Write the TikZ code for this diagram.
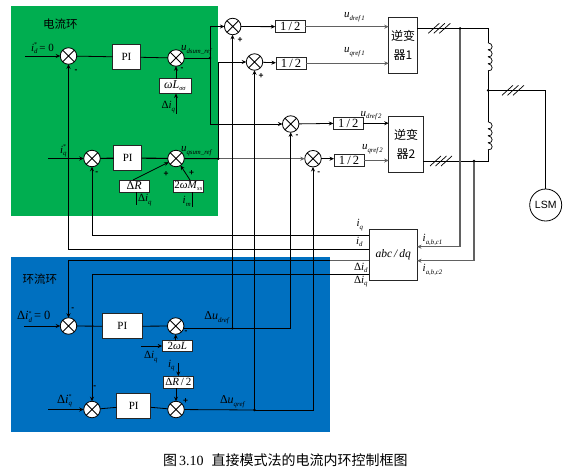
\documentclass[tikz,border=0pt]{standalone}
\usepackage{fontspec}
\setmainfont{Liberation Serif}
\newfontfamily\cjk{Noto Sans CJK SC}
\newfontfamily\hei{Liberation Sans}
\usetikzlibrary{arrows.meta}
\definecolor{gblock}{RGB}{0,174,80}
\definecolor{bblock}{RGB}{0,112,192}
\definecolor{gline}{gray}{0.38}
\newcommand{\subsup}[2]{\rlap{\raisebox{4.6pt}{\fontsize{6}{6}\selectfont #2}}\raisebox{-2.4pt}{\fontsize{6.8}{6.8}\selectfont\textit{#1}}}
\newcommand{\sym}[3]{\textit{#1}\subsup{#2}{#3}}
\tikzset{
  every node/.style={inner sep=0pt,outer sep=0pt},
  conn/.style={draw=black,line width=0.8pt},
  conng/.style={draw=gline,line width=1.3pt},
  tipped/.style={-{Stealth[length=4.5pt,width=4pt]}},
  sumnode/.style={circle,draw=black,line width=0.8pt,fill=white,minimum size=16.5pt,
    path picture={\draw[line width=0.8pt] (path picture bounding box.north west)--(path picture bounding box.south east)
      (path picture bounding box.north east)--(path picture bounding box.south west);}},
  boxnode/.style={draw=black!85,line width=0.8pt,fill=white,font=\fontsize{11}{11}\selectfont},
  halfbox/.style={boxnode,minimum width=30pt,minimum height=12pt,font=\fontsize{12.5}{12.5}\selectfont},
  lab/.style={anchor=west,font=\fontsize{11}{11}\selectfont,text=black},
  signlab/.style={font=\hei\bfseries\fontsize{8.5}{8.5}\selectfont},
  juncdot/.style={circle,fill=black,minimum size=2.6pt},
  slashes/.style={line width=0.7pt}
}
\begin{document}
\begin{tikzpicture}[x=1pt,y=-1pt]
\useasboundingbox (0,0) rectangle (567,472);
\fill[white] (0,0) rectangle (567,472);
\fill[gblock] (11,6) rectangle (218,216);
\fill[bblock] (11,257) rectangle (330,432);

% summing junctions
\node[sumnode] (s1) at (68.5,56) {};
\node[sumnode] (s2) at (176,58) {};
\node[sumnode] (s3) at (92,158.5) {};
\node[sumnode] (s4) at (176,158.5) {};
\node[sumnode] (s5) at (232.7,26.5) {};
\node[sumnode] (s6) at (254.5,62) {};
\node[sumnode] (s7) at (290.7,124) {};
\node[sumnode] (s8) at (313,158.7) {};
\node[sumnode] (s9) at (68.5,326) {};
\node[sumnode] (s10) at (175.7,326) {};
\node[sumnode] (s11) at (92,409.5) {};
\node[sumnode] (s12) at (176,409.5) {};

% boxes
\node[boxnode,minimum width=28pt,minimum height=25pt] (pi1) at (126.5,57) {PI};
\node[boxnode,minimum width=28pt,minimum height=25pt] (pi2) at (127.7,158) {PI};
\node[boxnode,minimum width=40pt,minimum height=25pt] (pi3) at (122.3,326.3) {PI};
\node[boxnode,minimum width=34pt,minimum height=25pt] (pi4) at (133.7,405.8) {PI};
\node[boxnode,minimum width=32pt,minimum height=15pt] (wl) at (175,86) {\fontsize{12}{12}\selectfont\textit{ωL}\raisebox{-2pt}{\fontsize{6.5}{6.5}\selectfont\textit{σσ}}};
\node[boxnode,minimum width=30pt,minimum height=12pt] (dr) at (134.2,186) {\fontsize{12}{12}\selectfont Δ\textit{R}};
\node[boxnode,minimum width=30pt,minimum height=12pt] (wm) at (188.3,186) {\fontsize{11}{11}\selectfont 2\textit{ωM}\raisebox{-2pt}{\fontsize{6.5}{6.5}\selectfont\textit{ss}}};
\node[boxnode,minimum width=30pt,minimum height=10.5pt] (wl2) at (177.2,346) {\fontsize{11}{11}\selectfont 2\textit{ωL}};
\node[boxnode,minimum width=30pt,minimum height=12pt] (dr2) at (178.3,382) {\fontsize{11}{11}\selectfont Δ\textit{R}\,/\,2};
\node[halfbox] (h1) at (290.3,26.7) {1\,/\,2};
\node[halfbox] (h2) at (291,63.3) {1\,/\,2};
\node[halfbox] (h3) at (348.3,123.2) {1\,/\,2};
\node[halfbox] (h4) at (349,160.5) {1\,/\,2};
\node[boxnode,minimum width=28.6pt,minimum height=56pt,align=center,font=\cjk\fontsize{12}{19}\selectfont] (inv1) at (403,45) {逆变\\器1};
\node[boxnode,minimum width=34.6pt,minimum height=56pt,align=center,font=\cjk\fontsize{12}{19}\selectfont] (inv2) at (406,144.3) {逆变\\器2};
\node[boxnode,minimum width=47.7pt,minimum height=51pt,font=\fontsize{11.5}{11.5}\selectfont\itshape] (abc) at (393.2,254.8) {abc\,/\,dq};
\node[circle,draw=black,line width=0.8pt,fill=white,minimum size=32pt,font=\hei\fontsize{10.5}{11}\selectfont] (lsm) at (545.7,205) {LSM};

% routing points
\coordinate (jd) at (210,58);
\coordinate (jq) at (218.3,158.7);
\coordinate (jdu) at (232.5,328.3);
\coordinate (jqu) at (254.5,410);
\coordinate (jinv1) at (460,28.3);
\coordinate (jinv2) at (474,161);
\coordinate (jmid) at (488,90.3);
\coordinate (cr1) at (488,28.3);
\coordinate (cr2) at (488,161);
\coordinate (l1a) at (488,42.7);
\coordinate (l1b) at (488,70.7);
\coordinate (l2a) at (488,121.7);
\coordinate (l2b) at (488,150);
\coordinate (inA) at (417,246.7);
\coordinate (inB) at (417,260.7);
\coordinate (idin) at (25,56);
\coordinate (iqin) at (48,158.5);
\coordinate (didin) at (24,326);
\coordinate (diqin) at (48,409.5);
\coordinate (leadwl) at (176,113.7);
\coordinate (leaddr) at (136.3,204.7);
\coordinate (leadwm) at (192.7,207);
\coordinate (leadwl2) at (141,346);
\coordinate (leaddr2) at (178.3,363.3);
\coordinate (drtop) at (133,180);
\coordinate (wmtop) at (190,180);
\coordinate (fbq) at (369.35,235.3);
\coordinate (fbd) at (369.35,249.7);
\coordinate (fbdd) at (369.35,260.7);
\coordinate (fbdq) at (369.35,274.3);

% current loop
\draw[conn,tipped] (idin) -- (s1);
\draw[conn] (s1) -- (pi1);
\draw[conn] (pi1) -- (s2);
\draw[conn] (s2) -- (jd);
\draw[conn,tipped] (wl.north -| s2) -- (s2);
\draw[conn,tipped] (leadwl) -- (leadwl |- wl.south);
\draw[conn,tipped] (iqin) -- (s3);
\draw[conn,line width=1.1pt] (s3) -- (pi2);
\draw[conn,line width=1.1pt] (pi2) -- (s4);
\draw[conn,line width=1.1pt] (s4) -- (jq);
\draw[conn,tipped] (drtop) -- (s4);
\draw[conn,tipped] (wmtop) -- (s4);
\draw[conn] (leaddr) -- (leaddr |- dr.south);
\draw[conn] (leadwm) -- (leadwm |- wm.south);

% references to the adders
\draw[conn,tipped] (jd) |- (s5);
\draw[conn,tipped] (jd) |- (s7);
\draw[conn,tipped] (jq) |- (s6);
\draw[conng,tipped] (jq) -- (s8);
\draw[conn,tipped] (s5) -- (h1);
\draw[conn,tipped] (s6) -- (h2);
\draw[conn,tipped] (s7) -- (h3);
\draw[conn,tipped] (s8.east) -- (s8.east -| h4.west);
\draw[conng,line width=1pt,tipped] (h1.east) -- (h1.east -| inv1.west);
\draw[conng,line width=1pt,tipped] (h2.east) -- (h2.east -| inv1.west);
\draw[conn,tipped] (h3.east) -- (h3.east -| inv2.west);
\draw[conng,line width=1pt,tipped] (h4.east) -- (h4.east -| inv2.west);

% circulating loop
\draw[conn,tipped] (didin) -- (s9);
\draw[conn] (s9) -- (pi3);
\draw[conn] (pi3) -- (s10);
\draw[conn,tipped] (wl2.north -| s10) -- (s10);
\draw[conn,tipped] (leadwl2) -- (wl2.west);
\draw[conn,tipped] (leaddr2) -- (leaddr2 |- dr2.north);
\draw[conn,tipped] (dr2.south -| s12) -- (s12);
\draw[conn,tipped] (diqin) -- (s11);
\draw[conn] (s11) -- (pi4);
\draw[conn] (pi4) -- (s12);
\draw[conn] (s10.east |- jdu) -- (jdu);
\draw[conn,tipped] (jdu) -| (s7);
\draw[conn] (s12) -- (jqu);
\draw[conn,tipped] (jqu) -| (s8);
\draw[conn,tipped] (jdu) -- (jdu |- s5.south);
\draw[conn,tipped] (jqu) -- (jqu |- s6.south);

% feedback from abc/dq
\draw[conn,tipped] (fbq) -| (s3);
\draw[conn,tipped] (fbd) -| (s1);
\draw[conn,tipped] (fbdd) -| (s9);
\draw[conng] (fbdd) -- (330,260.7);
\draw[conn,tipped] (fbdq) -| (s11);

% power side
\draw[conn] (inv1.east |- cr1) -- (cr1) -- (l1a);
\draw[conn] (l1b) -- (l2a);
\draw[conn] (l2b) -- (cr2) -- (inv2.east |- cr2);
\draw[conn] (jmid) -| (lsm);
\draw[conng,line width=1.5pt,tipped] (jinv1) |- (inA);
\draw[conng,tipped] (jinv2) |- (inB);
\foreach \ya in {42.7,49.7,56.7,63.7,121.7,128.7,135.7,142.7}{
  \draw[line width=0.7pt] (488,\ya) .. controls (493.5,\ya+0.5) and (493.5,\ya+8) .. (488,\ya+7);
}
\foreach \xa/\ya in {428.3/28.3,433.8/28.3,439.3/28.3,502/90.3,507.5/90.3,513/90.3,430/161,435.5/161,441/161}{
  \draw[slashes] (\xa,\ya+5) -- (\xa+11,\ya-5);
}
\node[juncdot] (dj1) at (jd) {};
\node[juncdot] (dj2) at (jq) {};
\node[juncdot] (dj3) at (jdu) {};
\node[juncdot] (dj4) at (jqu) {};
\node[juncdot] (dj5) at (jinv1) {};
\node[juncdot] (dj6) at (jinv2) {};
\node[juncdot] (dj7) at (jmid) {};

% signs
\node[signlab] (p1) at (76,71) {-};
\node[signlab] (p2) at (182,69) {-};
\node[signlab] (p3) at (96.7,173) {-};
\node[signlab] (p4) at (166,174) {+};
\node[signlab] (p5) at (191.7,173) {+};
\node[signlab] (p6) at (240,40) {+};
\node[signlab] (p7) at (261,76.3) {+};
\node[signlab] (p8) at (297,136) {-};
\node[signlab] (p9) at (318.7,173) {-};
\node[signlab] (p10) at (72.7,309) {-};
\node[signlab] (p11) at (94.7,387) {-};
\node[signlab] (p12) at (186,331.7) {-};
\node[signlab] (p13) at (185.7,401) {+};

% labels
\node[lab,font=\cjk\fontsize{11.5}{12}\selectfont] (t1) at (43,24) {电流环};
\node[lab,font=\cjk\fontsize{11.5}{12}\selectfont] (t2) at (22.5,279) {环流环};
\node[lab] (a1) at (31,48) {\sym{i}{d}{*}\,= 0};
\node[lab] (a2) at (60,151) {\sym{i}{q}{*}};
\node[lab] (a3) at (181,50) {\sym{u}{dsum\_ref}{}};
\node[lab] (a4) at (181,151) {\sym{u}{qsum\_ref}{}};
\node[lab] (a5) at (161.5,107) {Δ\sym{i}{q}{}};
\node[lab] (a6) at (138,200) {Δ\sym{i}{q}{}};
\node[lab] (a7) at (182.7,201.5) {\sym{i}{m}{}};
\node[lab] (b1) at (344,17) {\sym{u}{dref\,1}{}};
\node[lab] (b2) at (344,52) {\sym{u}{qref\,1}{}};
\node[lab] (b3) at (360.7,115.5) {\sym{u}{dref\,2}{}};
\node[lab] (b4) at (362,149) {\sym{u}{qref\,2}{}};
\node[lab] (c1) at (356.5,225) {\sym{i}{q}{}};
\node[lab] (c2) at (356,241.7) {\sym{i}{d}{}};
\node[lab] (c3) at (354,268) {Δ\sym{i}{d}{}};
\node[lab] (c4) at (354,281.7) {Δ\sym{i}{q}{}};
\node[lab] (c5) at (422.7,240) {\sym{i}{a,b,c1}{}};
\node[lab] (c6) at (422.7,270) {\sym{i}{a,b,c2}{}};
\node[lab,font=\fontsize{12}{12}\selectfont] (d1) at (204.3,317.7) {Δ\sym{u}{dref}{}};
\node[lab,font=\fontsize{12}{12}\selectfont] (d2) at (220,401.7) {Δ\sym{u}{qref}{}};
\node[lab,font=\fontsize{12.5}{12.5}\selectfont] (d3) at (17,316.7) {Δ\sym{i}{d}{*}\,= 0};
\node[lab,font=\fontsize{12.5}{12.5}\selectfont] (d4) at (57,400.7) {Δ\sym{i}{q}{*}};
\node[lab] (d5) at (144,357) {Δ\sym{i}{q}{}};
\node[lab] (d6) at (168,365.7) {\sym{i}{q}{}};
\node[lab,font=\fontsize{14}{14}\selectfont] (cap) at (163,460) {{\cjk 图}\hspace{2pt}3.10\hspace{8pt}{\cjk 直接模式法的电流内环控制框图}};
\end{tikzpicture}
\end{document}
